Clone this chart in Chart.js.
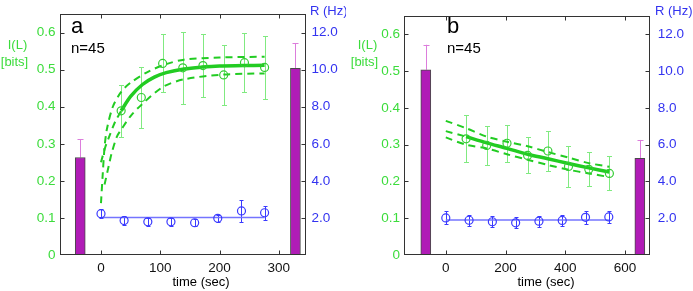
<!DOCTYPE html>
<html><head><meta charset="utf-8">
<script src="https://cdn.jsdelivr.net/npm/chart.js@4.4.1/dist/chart.umd.min.js"></script>
<style>
html,body{margin:0;padding:0;background:#fff;}
#wrap{position:relative;width:693px;height:291px;overflow:hidden;}
canvas{position:absolute;top:0;}
</style></head><body>
<div id="wrap"><canvas id="ca" width="346" height="291" style="left:0"></canvas><canvas id="cb" width="347" height="291" style="left:346px"></canvas></div>
<script>
// ---------- shared tick labels ----------
const infoTickVals = [0, 0.1, 0.2, 0.3, 0.4, 0.5, 0.6];
const infoTickLabels = ['0', '0.1', '0.2', '0.3', '0.4', '0.5', '0.6'];
const rateTickVals = [2, 4, 6, 8, 10, 12];
const rateTickLabels = ['2.0', '4.0', '6.0', '8.0', '10.0', '12.0'];

// ---------- panel a ----------
const aTimeTickVals = [0, 100, 200, 300];
const aTimeTickLabels = ['0', '100', '200', '300'];
const aInfoTime = [34, 68, 104, 138, 172, 207, 242, 276];
const aInfo = [0.389, 0.425, 0.517, 0.505, 0.511, 0.486, 0.519, 0.506];
const aInfoErr = [0.070, 0.081, 0.078, 0.097, 0.085, 0.081, 0.080, 0.086];
const aFitTime = [34, 50, 70, 90, 110, 140, 170, 200, 240, 276];
const aFit = [0.389, 0.428, 0.460, 0.480, 0.492, 0.502, 0.507, 0.510, 0.511, 0.512];
const aFitExtTime = [0, 7, 14, 24, 34];
const aFitExt = [0.25, 0.29, 0.32, 0.36, 0.389];
const aUpperTime = [0, 3, 6, 10, 20, 34, 50, 80, 110, 140, 200, 276];
const aUpper = [0.14, 0.22, 0.29, 0.34, 0.40, 0.44, 0.465, 0.495, 0.515, 0.527, 0.533, 0.535];
const aLowerTime = [6, 13, 18, 27, 34, 50, 68, 104, 140, 207, 276];
const aLower = [0.19, 0.24, 0.275, 0.32, 0.338, 0.375, 0.405, 0.453, 0.474, 0.487, 0.490];
const aRateTime = [0, 39, 79, 118, 158, 197, 237, 276];
const aRate = [2.23, 1.86, 1.79, 1.79, 1.74, 1.98, 2.38, 2.28];
const aRateErr = [0.25, 0.22, 0.20, 0.20, 0.20, 0.20, 0.60, 0.37];
const aRateFitTime = [0, 276];
const aRateFit = [2.02, 2.02];
const aBarTime = [-35, 328];
const aBarInfo = [0.263, 0.504];
const aBarErr = [0.050, 0.068];

// ---------- panel b ----------
const bTimeTickVals = [0, 200, 400, 600];
const bTimeTickLabels = ['0', '200', '400', '600'];
const bInfoTime = [68, 137, 205, 274, 342, 411, 479, 548];
const bInfo = [0.316, 0.298, 0.304, 0.271, 0.283, 0.241, 0.233, 0.222];
const bInfoErr = [0.064, 0.052, 0.050, 0.049, 0.054, 0.056, 0.046, 0.046];
const bFitTime = [68, 137, 205, 274, 342, 411, 479, 548];
const bFit = [0.322, 0.305, 0.290, 0.274, 0.262, 0.249, 0.237, 0.226];
const bFitExtTime = [0, 68];
const bFitExt = [0.337, 0.322];
const bUpperTime = [0, 68, 137, 205, 274, 342, 411, 479, 548];
const bUpper = [0.365, 0.345, 0.322, 0.308, 0.296, 0.280, 0.265, 0.250, 0.240];
const bLowerTime = [0, 68, 137, 205, 274, 342, 411, 479, 548];
const bLower = [0.320, 0.300, 0.290, 0.274, 0.259, 0.245, 0.232, 0.222, 0.212];
const bRateTime = [0, 78, 156, 234, 312, 390, 468, 546];
const bRate = [2.02, 1.89, 1.81, 1.75, 1.84, 1.88, 2.05, 2.07];
const bRateErr = [0.35, 0.30, 0.30, 0.30, 0.30, 0.30, 0.35, 0.35];
const bRateFitTime = [0, 546];
const bRateFit = [1.91, 1.91];
const bBarTime = [-67, 650];
const bBarInfo = [0.504, 0.263];
const bBarErr = [0.068, 0.050];

// ---------- styling ----------
const GREEN_TXT = '#3cdc3c';
const GREEN = '#22cc22';
const GREEN_ERR = '#80ea80';
const BLUE = '#3a3aff';
const BLUE_TXT = '#3333f0';
const PURPLE = '#b01cb6';
const PINK = '#dc7ddc';
const FONT = "'Liberation Sans', Arial, sans-serif";

const pts = (xs, ys) => xs.map((x, i) => ({x: x, y: ys[i]}));

function makePanel(id, d) {
  const framePlugin = {
    id: 'frame' + id,
    beforeDatasetsDraw(chart) {
      const ctx = chart.ctx, sx = chart.scales.x, sy = chart.scales.y, sr = chart.scales.y2;
      ctx.save();
      ctx.strokeStyle = PINK; ctx.lineWidth = 1;
      d.barTime.forEach((t, i) => {
        const x = Math.round(sx.getPixelForValue(t)) + 0.5;
        const y0 = sy.getPixelForValue(d.barInfo[i]);
        const y1 = sy.getPixelForValue(d.barInfo[i] + d.barErr[i]);
        ctx.beginPath(); ctx.moveTo(x, y0); ctx.lineTo(x, y1);
        ctx.moveTo(x - 3, Math.round(y1) + 0.5); ctx.lineTo(x + 3, Math.round(y1) + 0.5); ctx.stroke();
      });
      ctx.strokeStyle = GREEN_ERR; ctx.lineWidth = 1;
      d.infoTime.forEach((t, i) => {
        const x = Math.round(sx.getPixelForValue(t)) + 0.5;
        const yt = Math.round(sy.getPixelForValue(d.info[i] + d.infoErr[i])) + 0.5;
        const yb = Math.round(sy.getPixelForValue(d.info[i] - d.infoErr[i])) + 0.5;
        ctx.beginPath(); ctx.moveTo(x, yt); ctx.lineTo(x, yb);
        ctx.moveTo(x - 2.5, yt); ctx.lineTo(x + 2.5, yt);
        ctx.moveTo(x - 2.5, yb); ctx.lineTo(x + 2.5, yb); ctx.stroke();
      });
      ctx.strokeStyle = BLUE; ctx.lineWidth = 1;
      d.rateTime.forEach((t, i) => {
        const x = Math.round(sx.getPixelForValue(t)) + 0.5;
        const yt = Math.round(sr.getPixelForValue(d.rate[i] + d.rateErr[i])) + 0.5;
        const yb = Math.round(sr.getPixelForValue(d.rate[i] - d.rateErr[i])) + 0.5;
        ctx.beginPath(); ctx.moveTo(x, yt); ctx.lineTo(x, yb);
        ctx.moveTo(x - 2, yt); ctx.lineTo(x + 2, yt);
        ctx.moveTo(x - 2, yb); ctx.lineTo(x + 2, yb); ctx.stroke();
      });
      ctx.restore();
    },
    afterDraw(chart) {
      const ctx = chart.ctx, a = chart.chartArea;
      const sx = chart.scales.x, sy = chart.scales.y, sr = chart.scales.y2;
      ctx.save();
      const L = Math.round(a.left) + 0.5, R = Math.round(a.right) - 0.5;
      const T = Math.round(a.top) + 0.5, B = Math.round(a.bottom) - 0.5;
      ctx.strokeStyle = '#333'; ctx.lineWidth = 1;
      ctx.strokeRect(L, T, R - L, B - T);
      ctx.beginPath();
      infoTickVals.forEach(v => { if (v <= 0) return; const y = Math.round(sy.getPixelForValue(v)) + 0.5; ctx.moveTo(L, y); ctx.lineTo(L + 4, y); });
      rateTickVals.forEach(v => { const y = Math.round(sr.getPixelForValue(v)) + 0.5; ctx.moveTo(R, y); ctx.lineTo(R - 4, y); });
      d.timeTickVals.forEach(v => { const x = Math.round(sx.getPixelForValue(v)) + 0.5; ctx.moveTo(x, T); ctx.lineTo(x, T + 4); ctx.moveTo(x, B); ctx.lineTo(x, B - 4); });
      ctx.stroke();
      ctx.textBaseline = 'alphabetic';
      ctx.fillStyle = '#000';
      ctx.textAlign = 'left';
      ctx.font = '22px ' + FONT; ctx.fillText(d.letter, d.letterX, 33);
      ctx.font = '15px ' + FONT; ctx.fillText('n=45', d.letterX, 53);
      ctx.textAlign = 'center';
      ctx.font = '13px ' + FONT; ctx.fillText('time (sec)', d.titleX, 286);
      ctx.fillStyle = GREEN_TXT;
      ctx.fillText('I(L)', d.ilX, 49);
      ctx.fillText('[bits]', d.bitsX, 66);
      ctx.fillStyle = BLUE_TXT; ctx.textAlign = 'left';
      ctx.fillText('R (Hz)', d.hzX, 15);
      ctx.restore();
    }
  };

  return new Chart(document.getElementById(id), {
    type: 'line',
    data: {
      datasets: [
        {type: 'bar', data: pts(d.barTime, d.barInfo), yAxisID: 'y', backgroundColor: PURPLE, borderColor: '#4a4a4a', borderWidth: 1, barThickness: 10, order: 10},
        {data: pts(d.upperTime, d.upper), yAxisID: 'y', borderColor: GREEN, borderWidth: 2, borderDash: [7, 5], pointRadius: 0, fill: false, tension: 0.3, order: 5},
        {data: pts(d.lowerTime, d.lower), yAxisID: 'y', borderColor: GREEN, borderWidth: 2, borderDash: [7, 5], pointRadius: 0, fill: false, tension: 0.3, order: 5},
        {data: pts(d.fitExtTime, d.fitExt), yAxisID: 'y', borderColor: GREEN, borderWidth: 2, borderDash: [7, 5], pointRadius: 0, fill: false, tension: 0.3, order: 5},
        {data: pts(d.rateFitTime, d.rateFit), yAxisID: 'y2', borderColor: '#7474ff', borderWidth: 1.5, pointRadius: 0, fill: false, order: 4},
        {data: pts(d.fitTime, d.fit), yAxisID: 'y', borderColor: GREEN, borderWidth: 3.5, pointRadius: 0, fill: false, tension: 0.3, order: 3},
        {data: pts(d.infoTime, d.info), yAxisID: 'y', showLine: false, pointRadius: 4, pointBorderWidth: 1.2, borderColor: '#33cc33', backgroundColor: 'rgba(0,0,0,0)', pointBackgroundColor: 'rgba(0,0,0,0)', order: 1},
        {data: pts(d.rateTime, d.rate), yAxisID: 'y2', showLine: false, pointRadius: 4, pointBorderWidth: 1.2, borderColor: BLUE, backgroundColor: 'rgba(0,0,0,0)', pointBackgroundColor: 'rgba(0,0,0,0)', order: 1}
      ]
    },
    options: {
      responsive: false, animation: false, devicePixelRatio: 1,
      layout: {padding: {top: 8, left: 0, right: 0, bottom: 0}},
      plugins: {legend: {display: false}, tooltip: {enabled: false}},
      scales: {
        x: {
          type: 'linear', min: d.xMin, max: d.xMax, offset: false,
          grid: {display: false, drawTicks: false}, border: {display: false},
          afterBuildTicks: s => { s.ticks = d.timeTickVals.map(v => ({value: v})); },
          ticks: {padding: 5, color: '#111', font: {family: FONT, size: 13.5}, maxRotation: 0,
            callback: (v) => { const i = d.timeTickVals.indexOf(v); return i >= 0 ? d.timeTickLabels[i] : ''; }},
          afterFit: s => { s.height = 36; }
        },
        y: {
          type: 'linear', position: 'left', min: 0, max: 0.65,
          grid: {display: false, drawTicks: false}, border: {display: false},
          afterBuildTicks: s => { s.ticks = infoTickVals.map(v => ({value: v})); },
          ticks: {padding: 4, color: GREEN_TXT, font: {family: FONT, size: 13.5},
            callback: (v) => { const i = infoTickVals.indexOf(v); return i >= 0 ? infoTickLabels[i] : ''; }},
          afterFit: s => { s.width = d.leftW; }
        },
        y2: {
          type: 'linear', position: 'right', min: 0, max: 13,
          grid: {display: false, drawTicks: false}, border: {display: false},
          afterBuildTicks: s => { s.ticks = rateTickVals.map(v => ({value: v})); },
          ticks: {padding: d.rPad, color: BLUE_TXT, font: {family: FONT, size: 13.5},
            callback: (v) => { const i = rateTickVals.indexOf(v); return i >= 0 ? rateTickLabels[i] : ''; }},
          afterFit: s => { s.width = d.rightW; }
        }
      }
    },
    plugins: [framePlugin]
  });
}

makePanel('ca', {
  letter: 'a', letterX: 71, titleX: 201, ilX: 17.5, bitsX: 14.5, hzX: 310,
  leftW: 59.5, rightW: 40.5, rPad: 6, xMin: -70, xMax: 345,
  timeTickVals: aTimeTickVals, timeTickLabels: aTimeTickLabels,
  infoTime: aInfoTime, info: aInfo, infoErr: aInfoErr,
  fitTime: aFitTime, fit: aFit, fitExtTime: aFitExtTime, fitExt: aFitExt,
  upperTime: aUpperTime, upper: aUpper, lowerTime: aLowerTime, lower: aLower,
  rateTime: aRateTime, rate: aRate, rateErr: aRateErr, rateFitTime: aRateFitTime, rateFit: aRateFit,
  barTime: aBarTime, barInfo: aBarInfo, barErr: aBarErr
});
makePanel('cb', {
  letter: 'b', letterX: 101, titleX: 200, ilX: 21.5, bitsX: 18.5, hzX: 309,
  leftW: 58, rightW: 43.3, rPad: 8, xMin: -140, xMax: 683,
  timeTickVals: bTimeTickVals, timeTickLabels: bTimeTickLabels,
  infoTime: bInfoTime, info: bInfo, infoErr: bInfoErr,
  fitTime: bFitTime, fit: bFit, fitExtTime: bFitExtTime, fitExt: bFitExt,
  upperTime: bUpperTime, upper: bUpper, lowerTime: bLowerTime, lower: bLower,
  rateTime: bRateTime, rate: bRate, rateErr: bRateErr, rateFitTime: bRateFitTime, rateFit: bRateFit,
  barTime: bBarTime, barInfo: bBarInfo, barErr: bBarErr
});
</script>
</body></html>
